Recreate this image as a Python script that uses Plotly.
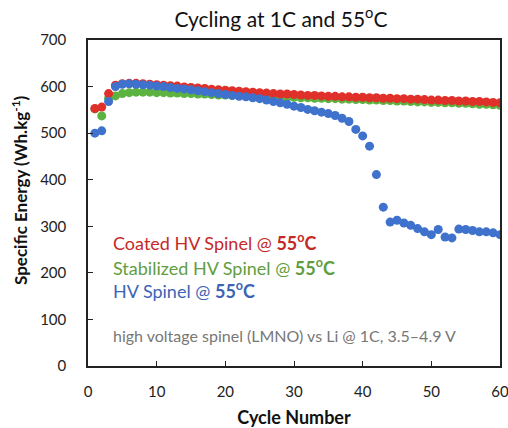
import plotly.graph_objects as go

cycles = list(range(1, 61))

coated = [553, 556, 585, 603, 606, 607, 607, 606, 605, 604,
          603, 602, 601, 599, 598, 597, 596, 594, 593, 592,
          591, 590, 589, 588, 587, 586, 585, 584, 584, 583,
          582, 581, 581, 580, 579, 579, 578, 578, 577, 577,
          576, 576, 575, 575, 574, 574, 573, 573, 572, 571,
          571, 570, 570, 569, 569, 568, 568, 567, 566, 565]

stabilized = [552, 537, 575, 580, 585, 587, 588, 588, 588, 587,
              587, 586, 586, 585, 585, 584, 584, 583, 582, 582,
              581, 581, 580, 580, 579, 579, 578, 578, 577, 577,
              576, 576, 575, 575, 574, 574, 573, 573, 572, 572,
              571, 571, 570, 570, 569, 569, 568, 567, 567, 566,
              566, 565, 565, 564, 564, 563, 562, 562, 561, 560]

hv = [500, 505, 568, 600, 605, 606, 605, 604, 603, 601,
      600, 598, 596, 595, 593, 591, 589, 587, 585, 583,
      581, 579, 578, 576, 574, 571, 568, 565, 562, 558,
      555, 551, 548, 545, 542, 538, 532, 525, 508, 494,
      472, 411, 341, 309, 313, 307, 302, 295, 288, 282,
      293, 277, 275, 294, 293, 291, 288, 288, 286, 282]

x_ticks = [0, 10, 20, 30, 40, 50, 60]
y_ticks = [0, 100, 200, 300, 400, 500, 600, 700]

FONT = "Lato"
fig = go.Figure()
for name, vals, col in [("Stabilized HV Spinel", stabilized, "#5cb340"),
                        ("Coated HV Spinel", coated, "#e0302a"),
                        ("HV Spinel", hv, "#3f72cc")]:
    fig.add_trace(go.Scatter(x=cycles, y=vals, mode="markers", name=name,
                             marker=dict(size=9, color=col), showlegend=False))

axis_common = dict(showline=True, linecolor="#222", linewidth=1.5, mirror=True,
                   ticks="inside", ticklen=5, tickcolor="#222", showgrid=False,
                   zeroline=False, automargin=False, ticklabeloverflow="allow",
                   tickfont=dict(family=FONT, size=15, color="#222"))

fig.update_xaxes(range=[0, 60], tickvals=x_ticks, ticklabelstandoff=11,
                 title=dict(text="<b>Cycle Number</b>", font=dict(family=FONT, size=18, color="#111"),
                            standoff=15), **axis_common)
fig.update_yaxes(range=[0, 700], tickvals=y_ticks, ticklabelstandoff=17, **axis_common)

ann = []
ann.append(dict(text="<b>Specific Energy (Wh.kg<sup>-1</sup>)</b>", textangle=-90,
                xref="paper", yref="paper", x=-0.165, y=0.54, xanchor="center", yanchor="middle",
                showarrow=False, font=dict(family=FONT, size=17, color="#111")))
labels = [("Coated HV Spinel @ <b>55<sup>o</sup>C</b>", "#c42a26", 0.381),
          ("Stabilized HV Spinel @ <b>55<sup>o</sup>C</b>", "#5f9e3f", 0.305),
          ("HV Spinel @ <b>55<sup>o</sup>C</b>", "#3d63b5", 0.233)]
for t, c, yy in labels:
    ann.append(dict(text=t, xref="paper", yref="paper", x=0.056, y=yy, xanchor="left",
                    yanchor="middle", showarrow=False, font=dict(family=FONT, size=18, color=c)))
ann.append(dict(text="high voltage spinel (LMNO) vs Li @ 1C, 3.5–4.9 V", xref="paper", yref="paper",
                x=0.056, y=0.095, xanchor="left", yanchor="middle", showarrow=False,
                font=dict(family=FONT, size=16, color="#777")))

fig.update_layout(
    width=508, height=428,
    margin=dict(l=88, r=8, t=40, b=62),
    paper_bgcolor="white", plot_bgcolor="white",
    title=dict(text="Cycling at 1C and 55<sup>o</sup>C", x=0.553, xanchor="center",
               y=0.955, yanchor="middle", font=dict(family=FONT, size=21, color="#111")),
    annotations=ann,
)

fig.write_html("out.html", config={"displayModeBar": False},
               post_script="document.body.style.margin='0';document.body.style.overflow='hidden';")
